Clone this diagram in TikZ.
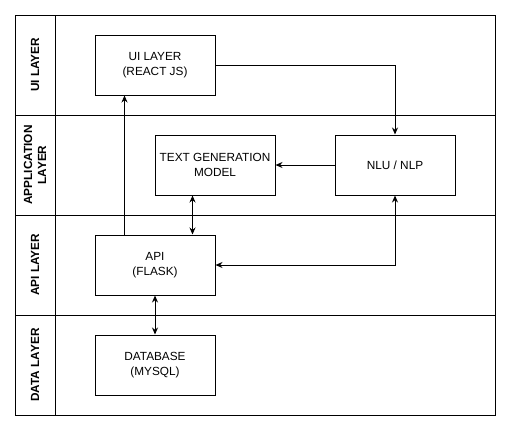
\documentclass[tikz,border=0pt]{standalone}
\usepackage{fontspec}
\setmainfont{Liberation Sans}
\usetikzlibrary{arrows.meta}
\begin{document}
\begin{tikzpicture}[x=1pt,y=-1pt, line width=1pt,
 box/.style={draw, minimum width=120pt, minimum height=60pt, align=center, font=\fontsize{11.8}{14.5}\selectfont, inner sep=0pt},
 lanelbl/.style={rotate=90, align=center, font=\bfseries\fontsize{11.8}{14}\selectfont},
 arr/.style={-{Stealth[length=7pt,width=6pt]}},
 darr/.style={{Stealth[length=7pt,width=6pt]}-{Stealth[length=7pt,width=6pt]}}]
\useasboundingbox (0,0) rectangle (511,431);
% lanes
\draw (15,15) rectangle (495,415);
\draw (55,15) -- (55,415);
\draw (15,115) -- (495,115);
\draw (15,215) -- (495,215);
\draw (15,315) -- (495,315);
\node[lanelbl] (l1) at (35,65) {UI LAYER};
\node[lanelbl] (l2) at (35,165) {APPLICATION\\LAYER};
\node[lanelbl] (l3) at (35,265) {API LAYER};
\node[lanelbl] (l4) at (35,365) {DATA LAYER};
% boxes
\node[box] (ui) at (155,65) {UI LAYER\\(REACT JS)};
\node[box] (tg) at (215,165) {TEXT GENERATION\\MODEL};
\node[box] (nlu) at (395,165) {NLU / NLP};
\node[box] (api) at (155,265) {API\\(FLASK)};
\node[box] (db) at (155,365) {DATABASE\\(MYSQL)};
% connectors
\draw[arr] (ui.east) -| (nlu.north);
\draw[arr] (nlu.west) -- (tg.east);
\draw[arr] ([xshift=30pt]api.north west) -- ([xshift=30pt]ui.south west);
\draw[darr] ([xshift=38pt]tg.south west) -- ([xshift=98pt]api.north west);
\draw[darr] (nlu.south) |- (api.east);
\draw[darr] (api.south) -- (db.north);
\end{tikzpicture}
\end{document}
